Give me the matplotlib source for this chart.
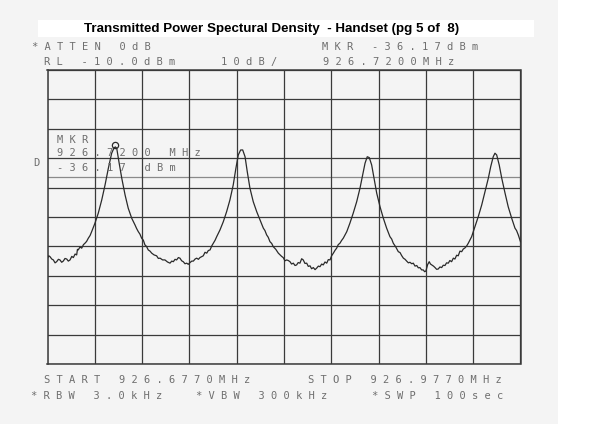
import numpy as np
import matplotlib.pyplot as plt
from matplotlib.patches import Rectangle

# analyzer settings
start_mhz = 926.677
stop_mhz = 926.977
ref_level = -10.0
db_per_div = 10.0
display_line = -46.3
mkr_freq = 926.7200
mkr_level = -36.17

# trace (MHz, dBm)
freq_mhz = [
    926.6770, 926.6778, 926.6786, 926.6797, 926.6807, 926.6818, 926.6828, 926.6839,
    926.6849, 926.6860, 926.6870, 926.6881, 926.6892, 926.6902, 926.6913, 926.6924,
    926.6934, 926.6945, 926.6955, 926.6960, 926.6965, 926.6976, 926.6987, 926.6998,
    926.7008, 926.7018, 926.7029, 926.7040, 926.7050, 926.7071, 926.7092, 926.7114,
    926.7135, 926.7156, 926.7177, 926.7192, 926.7200, 926.7209, 926.7223, 926.7241,
    926.7262, 926.7282, 926.7304, 926.7325, 926.7335, 926.7346, 926.7356, 926.7367,
    926.7378, 926.7388, 926.7398, 926.7409, 926.7420, 926.7431, 926.7446, 926.7462,
    926.7473, 926.7484, 926.7500, 926.7515, 926.7531, 926.7547, 926.7558, 926.7568,
    926.7579, 926.7589, 926.7600, 926.7610, 926.7621, 926.7631, 926.7642, 926.7653,
    926.7663, 926.7674, 926.7685, 926.7695, 926.7706, 926.7716, 926.7727, 926.7737,
    926.7748, 926.7758, 926.7769, 926.7780, 926.7790, 926.7801, 926.7812, 926.7822,
    926.7833, 926.7843, 926.7864, 926.7885, 926.7906, 926.7927, 926.7948, 926.7965,
    926.7980, 926.7995, 926.8008, 926.8023, 926.8037, 926.8054, 926.8075, 926.8097,
    926.8118, 926.8139, 926.8149, 926.8160, 926.8170, 926.8181, 926.8192, 926.8202,
    926.8218, 926.8234, 926.8245, 926.8255, 926.8265, 926.8276, 926.8287, 926.8297,
    926.8308, 926.8318, 926.8329, 926.8340, 926.8350, 926.8360, 926.8371, 926.8382,
    926.8392, 926.8403, 926.8414, 926.8424, 926.8435, 926.8445, 926.8456, 926.8467,
    926.8477, 926.8488, 926.8498, 926.8509, 926.8519, 926.8530, 926.8541, 926.8551,
    926.8562, 926.8572, 926.8583, 926.8594, 926.8604, 926.8614, 926.8625, 926.8635,
    926.8646, 926.8668, 926.8688, 926.8709, 926.8731, 926.8752, 926.8769, 926.8784,
    926.8798, 926.8811, 926.8826, 926.8841, 926.8858, 926.8879, 926.8900, 926.8921,
    926.8942, 926.8953, 926.8963, 926.8979, 926.8995, 926.9006, 926.9016, 926.9027,
    926.9038, 926.9048, 926.9059, 926.9069, 926.9080, 926.9090, 926.9101, 926.9112,
    926.9122, 926.9132, 926.9143, 926.9153, 926.9162, 926.9170, 926.9181, 926.9191,
    926.9199, 926.9207, 926.9218, 926.9228, 926.9238, 926.9248, 926.9259, 926.9270,
    926.9280, 926.9291, 926.9301, 926.9312, 926.9322, 926.9333, 926.9344, 926.9354,
    926.9365, 926.9375, 926.9386, 926.9397, 926.9407, 926.9418, 926.9429, 926.9439,
    926.9460, 926.9481, 926.9502, 926.9524, 926.9545, 926.9566, 926.9581, 926.9597,
    926.9608, 926.9619, 926.9635, 926.9651, 926.9672, 926.9692, 926.9714, 926.9735,
    926.9745, 926.9756, 926.9770,
]
level_dbm = [
    -74.0, -73.2, -73.5, -74.3, -74.6, -75.6, -75.2, -74.4,
    -74.6, -75.4, -75.0, -74.1, -74.3, -75.0, -74.6, -73.4,
    -73.8, -72.6, -72.9, -71.0, -71.2, -70.2, -70.6, -69.4,
    -68.9, -68.3, -67.2, -66.3, -65.0, -62.1, -58.7, -54.2,
    -49.1, -43.4, -38.3, -36.5, -36.17, -36.6, -41.2, -46.8,
    -52.5, -57.0, -60.4, -62.7, -63.9, -65.0, -65.8, -67.2,
    -67.9, -69.5, -70.0, -71.2, -71.6, -72.3, -72.9, -73.2,
    -74.1, -74.0, -74.6, -74.6, -75.3, -75.7, -75.0, -75.2,
    -74.4, -74.6, -73.8, -74.0, -74.9, -75.2, -75.9, -75.7,
    -76.1, -75.5, -75.0, -75.0, -74.3, -74.0, -74.4, -73.8,
    -73.5, -73.2, -72.0, -72.3, -71.4, -71.2, -69.8, -68.9,
    -67.9, -66.7, -64.4, -61.6, -58.2, -54.2, -49.1, -43.4,
    -38.9, -37.2, -37.2, -39.5, -44.6, -50.2, -54.8, -58.2,
    -61.0, -63.8, -64.6, -66.1, -66.9, -68.4, -69.0, -70.1,
    -71.0, -72.3, -72.9, -73.4, -73.8, -74.9, -74.6, -74.8,
    -75.2, -76.0, -75.7, -76.5, -76.3, -75.5, -75.7, -74.2,
    -74.6, -75.8, -75.7, -76.8, -76.6, -77.6, -77.2, -77.9,
    -77.4, -76.7, -76.9, -76.0, -76.3, -75.3, -75.7, -74.5,
    -74.6, -73.2, -72.3, -71.3, -70.6, -69.4, -68.9, -68.0,
    -67.2, -65.0, -62.1, -58.7, -54.8, -50.2, -45.7, -41.7,
    -39.5, -39.8, -42.3, -46.8, -51.9, -56.5, -60.4, -63.8,
    -66.7, -67.5, -68.9, -70.2, -71.8, -72.1, -73.1, -74.0,
    -74.4, -75.0, -75.6, -75.4, -75.9, -75.7, -76.7, -76.5,
    -77.3, -77.2, -78.0, -78.0, -78.6, -78.4, -76.2, -75.2,
    -76.0, -76.3, -76.7, -77.2, -77.8, -77.7, -77.0, -77.2,
    -76.4, -76.5, -75.6, -75.7, -74.8, -75.2, -74.0, -74.3,
    -73.0, -73.2, -71.6, -71.8, -70.9, -70.5, -69.8, -68.9,
    -66.7, -63.3, -59.9, -55.9, -51.4, -46.8, -42.9, -39.5,
    -38.3, -38.9, -42.3, -46.8, -51.9, -56.5, -60.4, -63.8,
    -64.6, -66.1, -68.4,
]

title = "Transmitted Power Spectural Density  - Handset (pg 5 of  8)"
W, H = 600, 424
txt_col = '#6e6e6e'
grid_col = '#3a3a3a'


def wide(s):
    # plotter font is very wide, fake it with spacing
    return ' '.join(s)


def put(x, y, s, **kw):
    fig.text(x / W, 1 - y / H, wide(s), family='DejaVu Sans Mono', fontsize=7.5,
             color=txt_col, va='center', ha='left', **kw)


fig = plt.figure(figsize=(6, 4.24), dpi=100)
fig.patch.set_facecolor('#f4f4f4')
# white strip on the right of the scan and white banner behind title
fig.patches.append(Rectangle((558 / W, 0), 1, 1, transform=fig.transFigure,
                             facecolor='white', edgecolor='none', zorder=0))
fig.patches.append(Rectangle((38 / W, 1 - 37 / H), 496 / W, 17 / H, transform=fig.transFigure,
                             facecolor='white', edgecolor='none', zorder=0))

ax = fig.add_axes([47.5 / W, 1 - 364 / H, 473 / W, 294 / H])
ax.set_facecolor('#f4f4f4')
bottom = ref_level - 10 * db_per_div
ax.set_xlim(start_mhz, stop_mhz)
ax.set_ylim(bottom, ref_level)
ax.set_xticks(np.linspace(start_mhz, stop_mhz, 11))
ax.set_yticks(np.linspace(bottom, ref_level, 11))
ax.tick_params(length=0, labelbottom=False, labelleft=False)
ax.grid(True, color=grid_col, lw=0.9, zorder=0)
for sp in ax.spines.values():
    sp.set_color(grid_col)
    sp.set_linewidth(1.1)

ax.axhline(display_line, color='#8a8a8a', lw=0.9, zorder=1)
ax.plot(freq_mhz, level_dbm, color='#2a2a2a', lw=0.9, zorder=3)
ax.plot([mkr_freq], [mkr_level + 0.8], 'o', ms=4.5, mfc='none', mec='#2a2a2a', mew=0.9, zorder=4)

fig.text(272 / W, 1 - 29 / H, title, family='Liberation Sans', fontstretch='condensed',
         fontsize=9.6, fontweight='bold', ha='center', va='center', color='black')

# header annotations
put(32, 47, "*ATTEN 0dB")
put(322, 47, f"MKR {mkr_level:.2f}dBm")
put(44, 62, f"RL {ref_level:.1f}dBm")
put(221, 62, f"{db_per_div:.0f}dB/")
put(323, 62, f"{mkr_freq:.4f}MHz")

# marker readout inside the graticule
put(57, 140, "MKR")
put(57, 153, f"{mkr_freq:.4f} MHz")
put(57, 168, f"{mkr_level:.2f} dBm")
put(33, 163, "D")

# footer
put(44, 380, f"START {start_mhz:.4f}MHz")
put(308, 380, f"STOP {stop_mhz:.4f}MHz")
put(31, 396, "*RBW 3.0kHz")
put(196, 396, "*VBW 300kHz")
put(372, 396, "*SWP 100sec")

plt.savefig('out.png', dpi=100, facecolor=fig.get_facecolor())
